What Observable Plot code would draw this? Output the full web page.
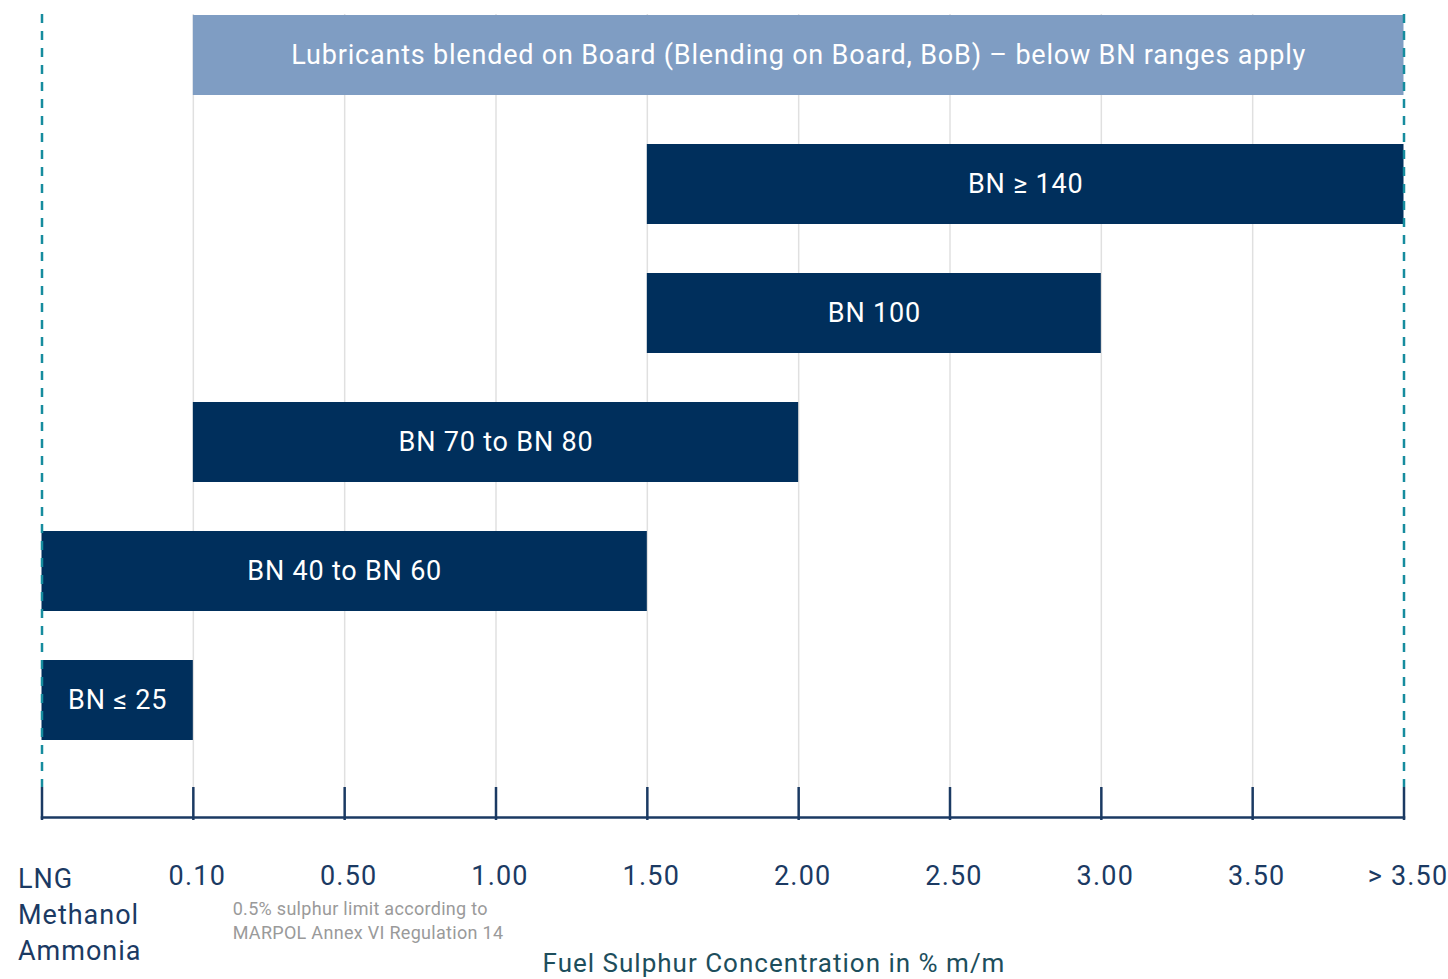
<!DOCTYPE html>
<html>
<head>
<meta charset="utf-8">
<script src="https://cdn.jsdelivr.net/npm/d3@7"></script>
<script src="https://cdn.jsdelivr.net/npm/@observablehq/plot@0.6"></script>
<style>
  html, body { margin: 0; padding: 0; background: #fff; }
  #chart svg { display: block; }
</style>
</head>
<body>
<div id="chart"></div>
<script>
// Tick labels along the (ordinal-like) sulphur axis
const tickLabels = ["LNG", "0.10", "0.50", "1.00", "1.50", "2.00", "2.50", "3.00", "3.50", "> 3.50"];
const fuelLabel = "LNG\nMethanol\nAmmonia";
// Bars (top to bottom)
const barNames = [
  "Lubricants blended on Board (Blending on Board, BoB) – below BN ranges apply",
  "BN ≥ 140",
  "BN 100",
  "BN 70 to BN 80",
  "BN 40 to BN 60",
  "BN ≤ 25"
];
const barStart = ["0.10", "1.50", "1.50", "0.10", "LNG", "LNG"];
const barEnd   = ["> 3.50", "> 3.50", "3.00", "2.00", "1.50", "0.10"];
const barKind  = ["bob", "bn", "bn", "bn", "bn", "bn"];
const noteText = "0.5% sulphur limit according to\nMARPOL Annex VI Regulation 14";
const axisTitle = "Fuel Sulphur Concentration in % m/m";

const idx = (l) => tickLabels.indexOf(l);
const bars = barNames.map((name, i) => ({
  name, x1: idx(barStart[i]), x2: idx(barEnd[i]), kind: barKind[i]
}));
const ticks = tickLabels.map((_, i) => i);

const navy = "#002f5c";
const axisNavy = "#1b3a63";
const teal = "#168c9e";

const chart = Plot.plot({
  width: 1448,
  height: 979,
  marginTop: 14,
  marginBottom: 162,
  marginLeft: 41.5,
  marginRight: 44.5,
  style: { fontFamily: "Roboto, 'Noto Sans', sans-serif", background: "#fff" },
  x: { domain: [0, tickLabels.length - 1], axis: null },
  y: { domain: barNames, range: [14, 741], paddingInner: 0.383, paddingOuter: 0, axis: null },
  color: { domain: ["bob", "bn"], range: ["#7f9dc3", navy] },
  marks: [
    // light vertical gridlines
    Plot.ruleX(ticks.slice(1, -1), { x: d => d, stroke: "#e0e0e0", strokeWidth: 1.5, insetBottom: 30 }),
    // bars
    Plot.barX(bars, { x1: "x1", x2: "x2", y: "name", fill: "kind" }),
    Plot.text(bars, {
      x: d => (d.x1 + d.x2) / 2, y: "name", text: "name",
      fill: "white", fontSize: 27
    }),
    // dashed boundary lines
    Plot.ruleX([0, tickLabels.length - 1], {
      x: d => d, stroke: teal, strokeWidth: 2.5, strokeDasharray: "9,8", insetBottom: 30
    }),
    // axis line
    Plot.frame({ anchor: "bottom", stroke: axisNavy, strokeWidth: 2.5 }),
    // tick marks
    Plot.ruleX(ticks, { x: d => d, stroke: axisNavy, strokeWidth: 2.5, insetTop: 773, insetBottom: -3 }),
    // tick labels
    Plot.text(ticks.slice(1), {
      x: d => d, text: d => tickLabels[d], frameAnchor: "bottom", lineAnchor: "middle",
      dy: 59, dx: 4, fontSize: 27, fill: axisNavy
    }),
    Plot.text([fuelLabel], {
      x: 0, text: d => d, frameAnchor: "bottom", lineAnchor: "middle", textAnchor: "start",
      dx: -24, dy: 95, fontSize: 27, lineHeight: 1.33, fill: axisNavy
    }),
    // annotation
    Plot.text([noteText], {
      x: 2, text: d => d, frameAnchor: "bottom", lineAnchor: "middle", textAnchor: "start",
      dx: -112, dy: 102, fontSize: 18, lineHeight: 1.33, fill: "#9a9a9a"
    }),
    // axis title
    Plot.text([axisTitle], {
      x: (tickLabels.length - 1) / 2, text: d => d, frameAnchor: "bottom", lineAnchor: "middle",
      dx: 51, dy: 146, fontSize: 26, fill: "#1d4e5c"
    })
  ]
});
// letter spacing per text mark (in mark order)
const spacing = ["0.8px", "1.2px", "1px", "0.3px", "1px"];
d3.select(chart).selectAll('g[aria-label="text"]').each(function (_, i) {
  d3.select(this).style("letter-spacing", spacing[i] || "0px");
});
document.getElementById("chart").appendChild(chart);
</script>
</body>
</html>
